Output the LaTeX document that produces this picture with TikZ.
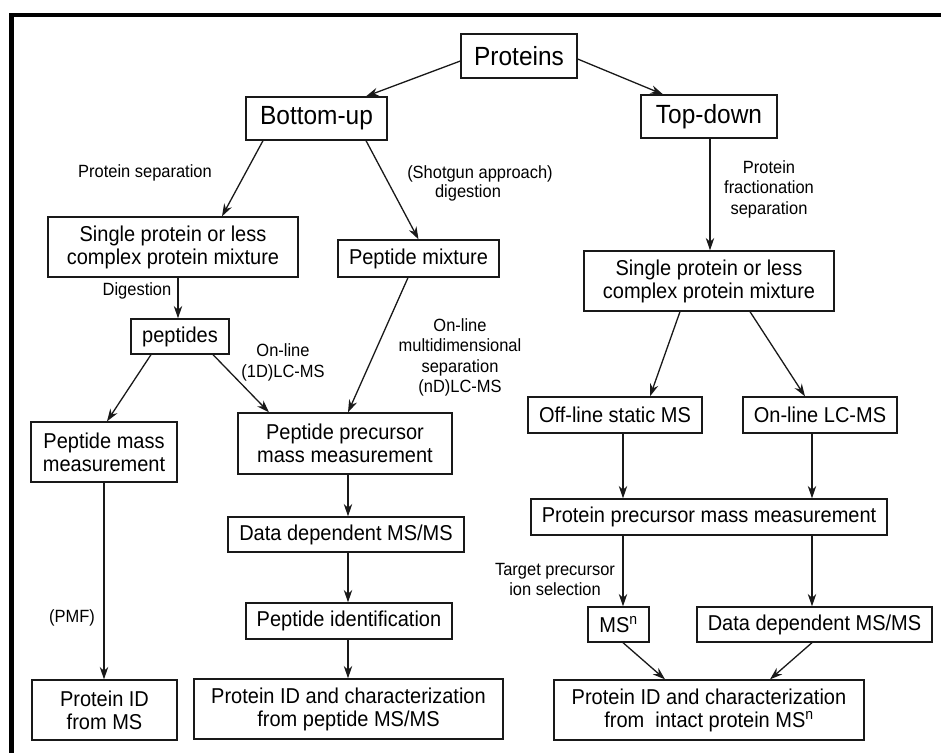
\documentclass[tikz,border=0pt]{standalone}
\usepackage{fontspec}
\setmainfont{Liberation Sans}[FakeStretch=0.93]
\usetikzlibrary{arrows.meta}
\newcommand\myfs[2]{\fontsize{#1pt}{#2pt}\selectfont}
\tikzset{
  box/.style={draw=black!90, line width=1.3pt, inner sep=0pt, align=center, font=\myfs{21.5}{23}},
  bigbox/.style={box, font=\myfs{26.3}{28}},
  lbl/.style={inner sep=0pt, align=center, font=\myfs{17.7}{20.5}},
  arr/.style={line width=1.3pt, black!90, -{Stealth[length=12.5pt,width=8.5pt]}}
}
\begin{document}
\begin{tikzpicture}[x=1pt,y=-1pt]
\useasboundingbox (0,0) rectangle (941,753);
% frame
\fill[black] (9,12.5) rectangle (941,17);
\fill[black] (9,12.5) rectangle (14,753);

% boxes
\node[bigbox, minimum width=116pt, minimum height=44pt] (prot) at (519,56) {Proteins};
\node[bigbox, minimum width=141pt, minimum height=43pt] (bu) at (316.5,118.5) {Bottom-up};
\node[bigbox, minimum width=136pt, minimum height=43pt] (td) at (709,116.5) {Top-down};
\node[box, minimum width=250pt, minimum height=60pt] (sp1) at (173,247) {Single protein or less\\complex protein mixture};
\node[box, minimum width=161pt, minimum height=37pt] (pmix) at (418.5,258.5) {Peptide mixture};
\node[box, minimum width=250pt, minimum height=60pt] (sp2) at (709,281) {Single protein or less\\complex protein mixture};
\node[box, minimum width=98pt, minimum height=35pt] (pep) at (180,336.5) {peptides};
\node[box, minimum width=146pt, minimum height=60pt] (pmm) at (104,452) {Peptide mass\\measurement};
\node[box, minimum width=214pt, minimum height=61pt] (ppm) at (345,443.5) {Peptide precursor\\mass measurement};
\node[box, minimum width=174pt, minimum height=36pt] (off) at (615,415) {Off-line static MS};
\node[box, minimum width=154pt, minimum height=36pt] (onl) at (820,415) {On-line LC-MS};
\node[box, minimum width=236pt, minimum height=35pt] (ddl) at (346,534.5) {Data dependent MS/MS};
\node[box, minimum width=356pt, minimum height=36pt] (prm) at (709,517) {Protein precursor mass measurement};
\node[box, minimum width=206pt, minimum height=36pt] (pid) at (349,621) {Peptide identification};
\node[box, minimum width=61pt, minimum height=35pt] (msn) at (618.5,624.5) {MS\textsuperscript{n}};
\node[box, minimum width=235pt, minimum height=35pt] (ddr) at (814.5,624.5) {Data dependent MS/MS};
\node[box, minimum width=145pt, minimum height=60pt] (idms) at (104.5,710) {Protein ID\\from MS};
\node[box, minimum width=309pt, minimum height=60pt] (idl) at (348.5,709) {Protein ID and characterization\\from peptide MS/MS};
\node[box, minimum width=310pt, minimum height=60pt] (idr) at (709,710) {Protein ID and characterization\\from~ intact protein MS\textsuperscript{n}};

% labels
\node[lbl] (lsep) at (145,173) {Protein separation};
\node[lbl] (lsg1) at (480,174) {(Shotgun approach)};
\node[lbl] (lsg2) at (468,193) {digestion};
\node[lbl] (lfrac) at (769,189) {Protein\\fractionation\\separation};
\node[lbl] (ldig) at (137,291) {Digestion};
\node[lbl] (l1d) at (283,362.5) {On-line\\(1D)LC-MS};
\node[lbl] (lnd) at (460,357.5) {On-line\\multidimensional\\separation\\(nD)LC-MS};
\node[lbl] (lpmf) at (72,618) {(PMF)};
\node[lbl] (ltgt) at (555,579.5) {Target precursor\\ion selection};

% connectors
\draw[arr] ([yshift=-5pt]prot.west) -- ([xshift=49.5pt]bu.north);
\draw[arr] ([yshift=-3pt]prot.east) -- ([xshift=-46pt]td.north);
\draw[arr] ([xshift=-53.5pt]bu.south) -- ([xshift=49pt]sp1.north);
\draw[arr] ([xshift=49.5pt]bu.south) -- (pmix.north);
\draw[arr] ([xshift=1pt]td.south) -- ([xshift=1pt]sp2.north);
\draw[arr] ([xshift=5pt]sp1.south) -- ([xshift=-2pt]pep.north);
\draw[arr] ([xshift=-10.5pt]pmix.south) -- ([xshift=3pt]ppm.north);
\draw[arr] ([xshift=-29pt]pep.south) -- ([xshift=3pt]pmm.north);
\draw[arr] ([xshift=33pt]pep.south) -- ([xshift=-76pt]ppm.north);
\draw[arr] ([xshift=-29pt]sp2.south) -- ([xshift=35pt]off.north);
\draw[arr] ([xshift=41pt]sp2.south) -- ([xshift=-15pt]onl.north);
\draw[arr] ([xshift=8pt]off.south) -- ([xshift=-86pt]prm.north);
\draw[arr] ([xshift=-8pt]onl.south) -- ([xshift=103pt]prm.north);
\draw[arr] ([xshift=3pt]ppm.south) -- ([xshift=2pt]ddl.north);
\draw[arr] ([xshift=2pt]ddl.south) -- ([xshift=-1pt]pid.north);
\draw[arr] ([xshift=-1pt]pid.south) -- ([xshift=-0.5pt]idl.north);
\draw[arr] (pmm.south) -- ([xshift=-0.5pt]idms.north);
\draw[arr] ([xshift=-86pt]prm.south) -- ([xshift=4.5pt]msn.north);
\draw[arr] ([xshift=103pt]prm.south) -- ([xshift=-2.5pt]ddr.north);
\draw[arr] ([xshift=4.5pt]msn.south) -- ([xshift=-44pt]idr.north);
\draw[arr] ([xshift=-2.5pt]ddr.south) -- ([xshift=61pt]idr.north);
\end{tikzpicture}
\end{document}
